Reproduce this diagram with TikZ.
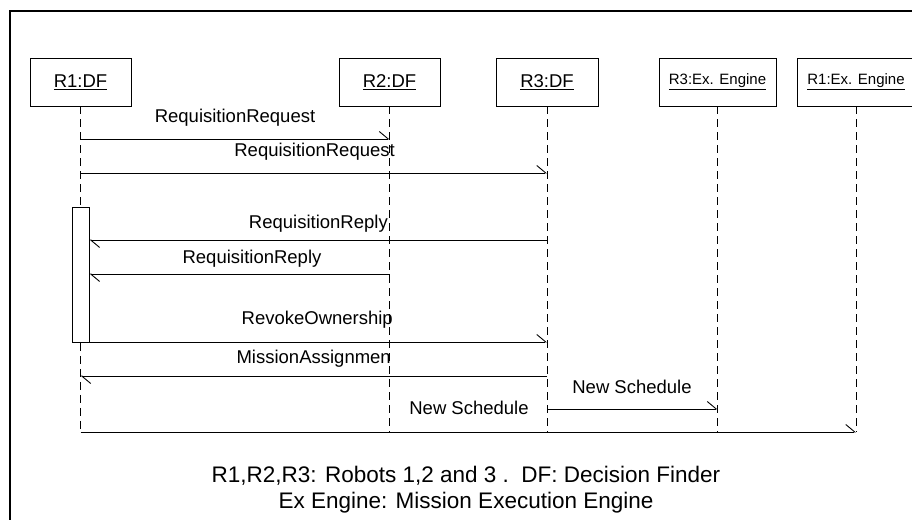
\documentclass[tikz,border=0pt]{standalone}
\usepackage{fontspec}
\setmainfont{Liberation Sans}
\usetikzlibrary{arrows.meta}
\begin{document}
\begin{tikzpicture}[x=1pt,y=-1pt,
  obj/.style={draw,line width=0.9pt,minimum height=48pt,inner sep=0pt,font=\fontsize{18.5}{20}\selectfont},
  smallobj/.style={obj,font=\fontsize{15}{17}\selectfont},
  life/.style={line width=0.9pt,dash pattern=on 8pt off 5pt},
  msg/.style={line width=0.9pt,-{Straight Barb[harpoon,length=9pt,width=15pt,line width=0.9pt]}},
  lbl/.style={inner sep=0pt,font=\fontsize{18.5}{20}\selectfont},
  legend/.style={inner sep=0pt,align=center,font=\fontsize{22.5}{26}\selectfont},
  frame/.style={line width=2.6pt}]
\useasboundingbox (0,0) rectangle (912,519);
\clip (0,0) rectangle (912,519);
% frame
\draw[frame] (10,560) -- (10,11) -- (960,11);
% objects
\node[obj,minimum width=101pt] (R1) at (80.5,82) {\underline{R1:DF}};
\node[obj,minimum width=101pt] (R2) at (389.5,82) {\underline{R2:DF}};
\node[obj,minimum width=102pt] (R3) at (547,82) {\underline{R3:DF}};
\node[smallobj,minimum width=117pt] (E3) at (717.5,82) {\underline{R3:Ex. Engine}};
\node[smallobj,minimum width=118pt] (E1) at (856,82) {\underline{R1:Ex. Engine}};
% lifeline ends
\coordinate (yend) at (0,432);
\coordinate (R1end) at (R1.south |- yend);
\coordinate (R2end) at (R2.south |- yend);
\coordinate (R3end) at (R3.south |- yend);
\coordinate (E3end) at (E3.south |- yend);
\coordinate (E1end) at (E1.south |- yend);
% activation box
\node[draw,line width=0.9pt,fill=white,minimum width=17pt,minimum height=135pt,inner sep=0pt,anchor=north] (act) at (80.5,207) {};
\draw[life] (R1.south) -- (act.north);
\draw[life] (act.south) -- (R1end);
\draw[life] (R2.south) -- (R2end);
\draw[life] (R3.south) -- (R3end);
\draw[life] (E3.south) -- (E3end);
\draw[life] (E1.south) -- (E1end);
% message rows
\coordinate (m1) at (0,139);
\coordinate (m2) at (0,173);
\coordinate (m3) at (0,240);
\coordinate (m4) at (0,274);
\coordinate (m5) at (0,342);
\coordinate (m6) at (0,376);
\coordinate (m7) at (0,409);
\coordinate (m8) at (0,432);
\draw[msg] (R1.south |- m1) -- (R2.south |- m1);
\draw[msg] (R1.south |- m2) -- (R3.south |- m2);
\draw[msg] (R3.south |- m3) -- (act.east |- m3);
\draw[msg] (R2.south |- m4) -- (act.east |- m4);
\draw[msg] (act.east |- m5) -- (R3.south |- m5);
\draw[msg] (R3.south |- m6) -- (R1.south |- m6);
\draw[msg] (R3.south |- m7) -- (E3.south |- m7);
\draw[msg] (R1.south |- m8) -- (E1.south |- m8);
% labels
\node[lbl] (l1) at (235,118) {RequisitionRequest};
\node[lbl,anchor=east] (l2) at (395,152) {RequisitionRequest};
\node[lbl,anchor=east] (l3) at (388,224) {RequisitionReply};
\node[lbl] (l4) at (252,259) {RequisitionReply};
\node[lbl,anchor=east] (l5) at (393,320) {RevokeOwnership};
\node[lbl,anchor=east] (l6) at (391,359) {MissionAssignmen};
\node[lbl] (l7) at (632,387) {New Schedule};
\node[lbl] (l8) at (469,408) {New Schedule};
% legend
\node[legend] (leg) at (466,490) {R1,R2,R3: Robots 1,2 and 3 .\ \ DF: Decision Finder\\Ex Engine: Mission Execution Engine};
\end{tikzpicture}
\end{document}
